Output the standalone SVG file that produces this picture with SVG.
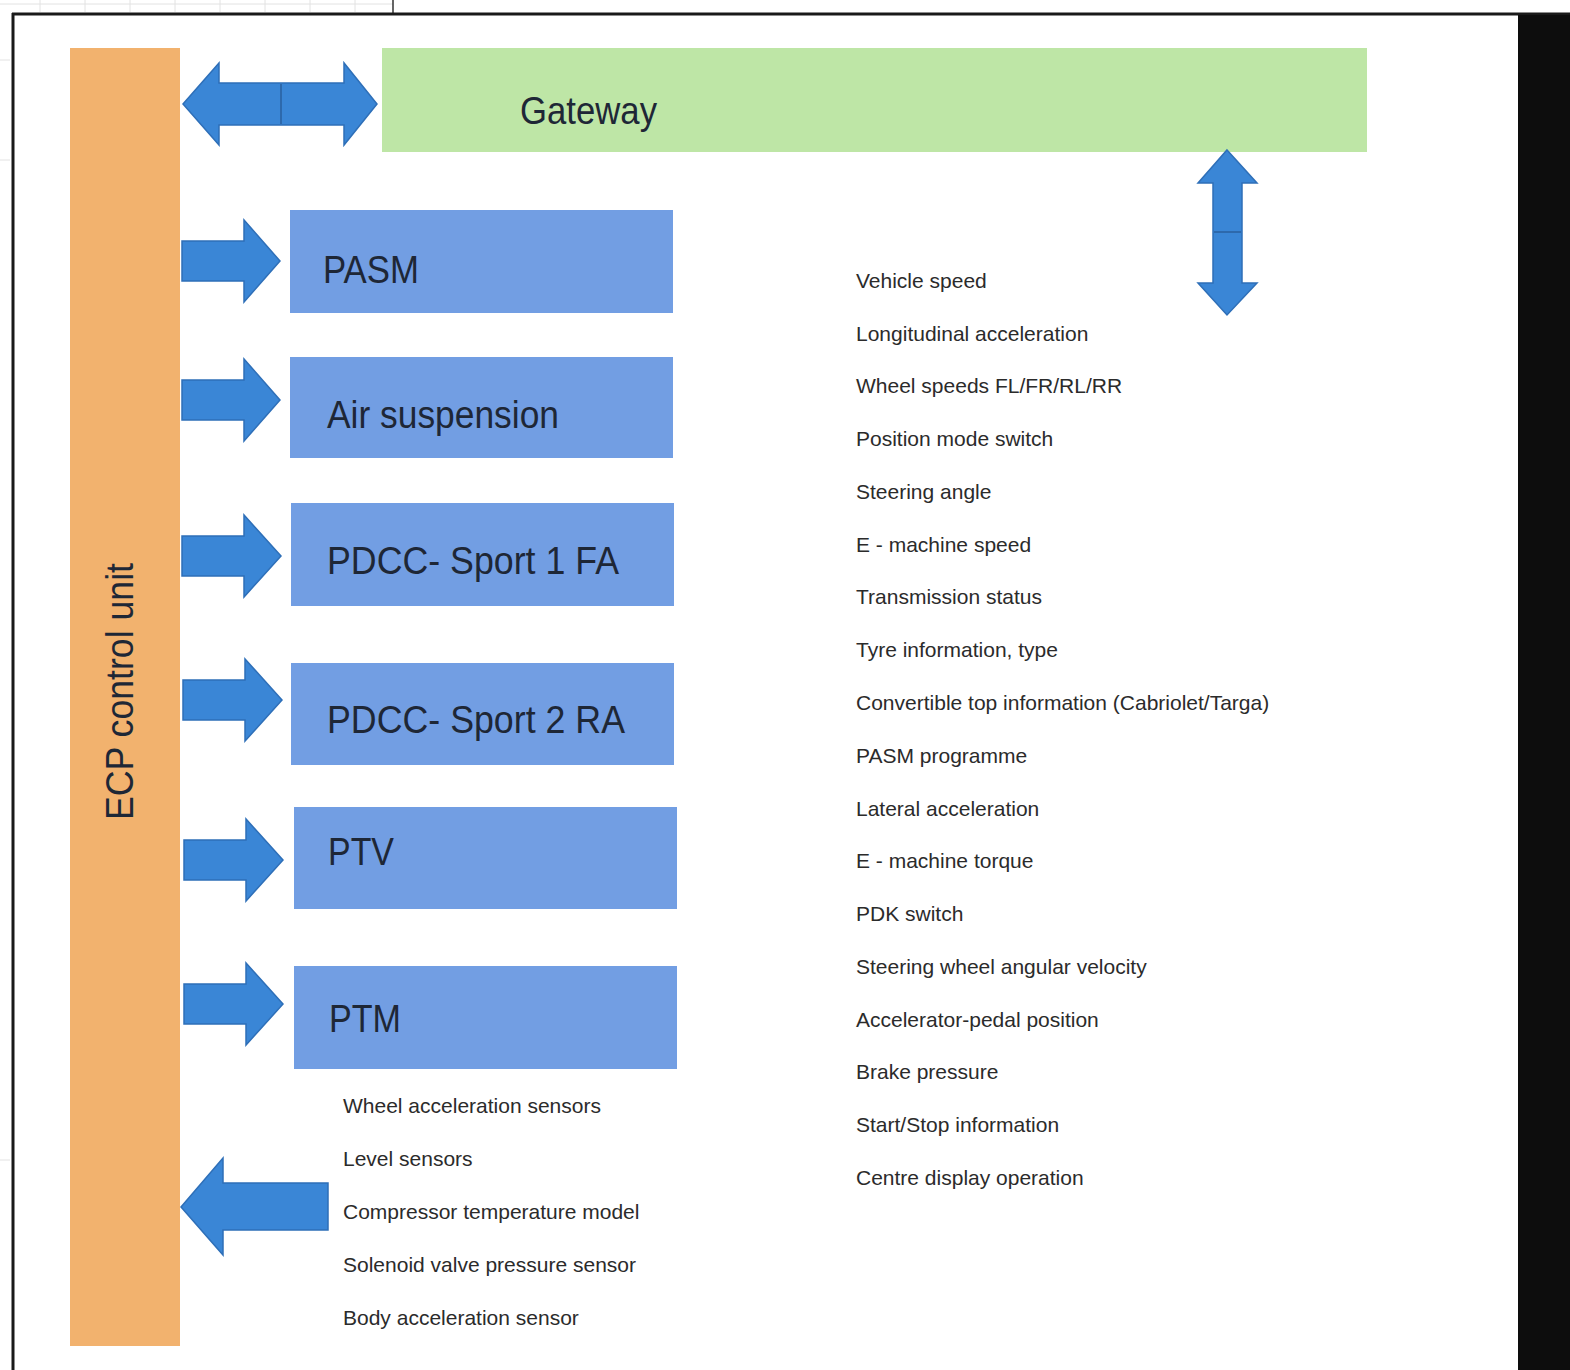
<svg xmlns="http://www.w3.org/2000/svg" width="1570" height="1370" viewBox="0 0 1570 1370">
  <style>
    .box { fill: #729ee3; }
    .lbl { font-family: "Liberation Sans", Arial, sans-serif; font-size: 38px; fill: #1e2736; }
    .sig { font-family: "Liberation Sans", Arial, sans-serif; font-size: 21px; fill: #2b2b2b; }
    .arr { fill: #3a86d6; stroke: #2e6fb8; stroke-width: 1.5; stroke-linejoin: miter; }
    .seam { stroke: #2a5f9e; stroke-width: 1.5; }
  </style>
  <rect x="0" y="0" width="1570" height="1370" fill="#ffffff"/>

  <!-- scanned page frame -->
  <g id="frame">
    <g stroke="#e2e2e2" stroke-width="1">
      <line x1="0" y1="4" x2="393" y2="4"/>
      <line x1="40" y1="0" x2="40" y2="12"/>
      <line x1="85" y1="0" x2="85" y2="12"/>
      <line x1="130" y1="0" x2="130" y2="12"/>
      <line x1="175" y1="0" x2="175" y2="12"/>
      <line x1="220" y1="0" x2="220" y2="12"/>
      <line x1="265" y1="0" x2="265" y2="12"/>
      <line x1="310" y1="0" x2="310" y2="12"/>
      <line x1="355" y1="0" x2="355" y2="12"/>
      <line x1="0" y1="60" x2="10" y2="60"/>
      <line x1="0" y1="160" x2="10" y2="160"/>
      <line x1="0" y1="1160" x2="10" y2="1160"/>
    </g>
    <line x1="393" y1="0" x2="393" y2="14" stroke="#333" stroke-width="1.5"/>
    <line x1="12" y1="14" x2="1570" y2="14" stroke="#1a1a1a" stroke-width="3"/>
    <line x1="13" y1="13" x2="13" y2="1370" stroke="#1a1a1a" stroke-width="3"/>
    <rect x="1518" y="15" width="52" height="1355" fill="#0d0d0d"/>
  </g>

  <!-- nodes -->
  <g id="ecp">
    <rect x="70" y="48" width="110" height="1298" fill="#f2b26e"/>
    <text class="lbl" transform="translate(133 820) rotate(-90)" textLength="257" lengthAdjust="spacingAndGlyphs">ECP control unit</text>
  </g>
  <g id="gateway">
    <rect x="382" y="48" width="985" height="104" fill="#bee6a6"/>
    <text class="lbl" x="520" y="124" textLength="137" lengthAdjust="spacingAndGlyphs">Gateway</text>
  </g>
  <g id="pasm">
    <rect class="box" x="290" y="210" width="383" height="103"/>
    <text class="lbl" x="323" y="283" textLength="96" lengthAdjust="spacingAndGlyphs">PASM</text>
  </g>
  <g id="air-suspension">
    <rect class="box" x="290" y="357" width="383" height="101"/>
    <text class="lbl" x="327" y="428" textLength="232" lengthAdjust="spacingAndGlyphs">Air suspension</text>
  </g>
  <g id="pdcc-sport-1">
    <rect class="box" x="291" y="503" width="383" height="103"/>
    <text class="lbl" x="327" y="574" textLength="292" lengthAdjust="spacingAndGlyphs">PDCC- Sport 1 FA</text>
  </g>
  <g id="pdcc-sport-2">
    <rect class="box" x="291" y="663" width="383" height="102"/>
    <text class="lbl" x="327" y="733" textLength="298" lengthAdjust="spacingAndGlyphs">PDCC- Sport 2 RA</text>
  </g>
  <g id="ptv">
    <rect class="box" x="294" y="807" width="383" height="102"/>
    <text class="lbl" x="328" y="865" textLength="66" lengthAdjust="spacingAndGlyphs">PTV</text>
  </g>
  <g id="ptm">
    <rect class="box" x="294" y="966" width="383" height="103"/>
    <text class="lbl" x="329" y="1032" textLength="72" lengthAdjust="spacingAndGlyphs">PTM</text>
  </g>

  <!-- sensor inputs -->
  <g id="sensor-inputs">
    <text class="sig" x="343" y="1113">Wheel acceleration sensors</text>
    <text class="sig" x="343" y="1166">Level sensors</text>
    <text class="sig" x="343" y="1219">Compressor temperature model</text>
    <text class="sig" x="343" y="1272">Solenoid valve pressure sensor</text>
    <text class="sig" x="343" y="1325">Body acceleration sensor</text>
  </g>

  <!-- gateway signals -->
  <g id="gateway-signals">
    <text class="sig" x="856" y="288">Vehicle speed</text>
    <text class="sig" x="856" y="341">Longitudinal acceleration</text>
    <text class="sig" x="856" y="393">Wheel speeds FL/FR/RL/RR</text>
    <text class="sig" x="856" y="446">Position mode switch</text>
    <text class="sig" x="856" y="499">Steering angle</text>
    <text class="sig" x="856" y="552">E - machine speed</text>
    <text class="sig" x="856" y="604">Transmission status</text>
    <text class="sig" x="856" y="657">Tyre information, type</text>
    <text class="sig" x="856" y="710">Convertible top information (Cabriolet/Targa)</text>
    <text class="sig" x="856" y="763">PASM programme</text>
    <text class="sig" x="856" y="816">Lateral acceleration</text>
    <text class="sig" x="856" y="868">E - machine torque</text>
    <text class="sig" x="856" y="921">PDK switch</text>
    <text class="sig" x="856" y="974">Steering wheel angular velocity</text>
    <text class="sig" x="856" y="1027">Accelerator-pedal position</text>
    <text class="sig" x="856" y="1079">Brake pressure</text>
    <text class="sig" x="856" y="1132">Start/Stop information</text>
    <text class="sig" x="856" y="1185">Centre display operation</text>
  </g>

  <!-- connectors -->
  <g id="connectors">
    <!-- ECP <-> Gateway -->
    <path class="arr" d="M183 104 L219 63 L219 83 L344 83 L344 63 L377 104 L344 145 L344 125 L219 125 L219 145 Z"/>
    <line class="seam" x1="281" y1="84" x2="281" y2="124"/>
    <!-- Gateway <-> signals -->
    <path class="arr" d="M1227 150 L1257 183 L1242 183 L1242 283 L1257 283 L1227 315 L1198 283 L1213 283 L1213 183 L1198 183 Z"/>
    <line class="seam" x1="1214" y1="232" x2="1241" y2="232"/>
    <!-- ECP -> units -->
    <path class="arr" d="M182 241 L244 241 L244 220 L280 261 L244 302 L244 281 L182 281 Z"/>
    <path class="arr" d="M182 380 L244 380 L244 359 L280 400 L244 441 L244 420 L182 420 Z"/>
    <path class="arr" d="M182 536 L244 536 L244 515 L281 556 L244 597 L244 576 L182 576 Z"/>
    <path class="arr" d="M183 680 L245 680 L245 659 L282 700 L245 741 L245 720 L183 720 Z"/>
    <path class="arr" d="M184 840 L246 840 L246 819 L283 860 L246 901 L246 880 L184 880 Z"/>
    <path class="arr" d="M184 984 L246 984 L246 963 L283 1004 L246 1045 L246 1024 L184 1024 Z"/>
    <!-- sensors -> ECP -->
    <path class="arr" d="M181 1207 L223 1158 L223 1183 L328 1183 L328 1230 L223 1230 L223 1255 Z"/>
  </g>
</svg>
